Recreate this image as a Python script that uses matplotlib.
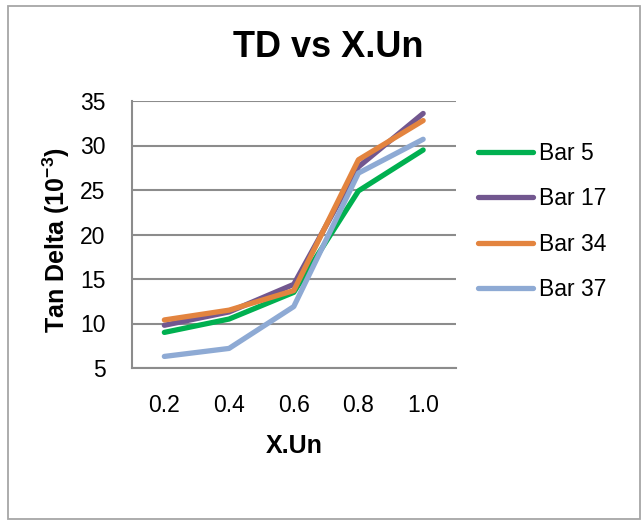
import matplotlib
matplotlib.use("Agg")
import matplotlib.pyplot as plt
from matplotlib.patches import Rectangle

plt.rcParams['font.family'] = ['Liberation Sans', 'DejaVu Sans']
plt.rcParams['mathtext.fontset'] = 'custom'
plt.rcParams['mathtext.rm'] = 'Liberation Sans'
plt.rcParams['mathtext.bf'] = 'Liberation Sans:bold'

categories = ["0.2", "0.4", "0.6", "0.8", "1.0"]
bar5 = [9.0, 10.5, 13.5, 24.9, 29.5]
bar17 = [9.8, 11.3, 14.4, 27.6, 33.6]
bar34 = [10.4, 11.5, 13.7, 28.4, 32.8]
bar37 = [6.3, 7.2, 11.9, 26.9, 30.7]
series_names = ["Bar 5", "Bar 17", "Bar 34", "Bar 37"]
yticks = [5, 10, 15, 20, 25, 30, 35]

colors = ["#00b050", "#72578f", "#e3843f", "#8eaad4"]

W, H = 644, 521
fig = plt.figure(figsize=(W / 100, H / 100), dpi=100)
fig.patch.set_facecolor("white")
fig.patches.append(Rectangle((8 / W, 2 / H), 632 / W, 513 / H, transform=fig.transFigure,
                             fill=False, edgecolor="#a6a6a6", linewidth=1.3))

ax = fig.add_axes([132 / W, (H - 368) / H, 323.5 / W, 267 / H])
x = list(range(len(categories)))
for vals, name, c in zip([bar5, bar17, bar34, bar37], series_names, colors):
    ax.plot(x, vals, color=c, linewidth=3.8, label=name, solid_capstyle="round",
            solid_joinstyle="round")

ax.set_xlim(-0.5, len(categories) - 0.5)
ax.set_ylim(5, 35)
ax.set_yticks(yticks)
ax.set_xticks(x)
ax.set_xticklabels(categories)
ax.yaxis.grid(True, color="#8c8c8c", linewidth=1.5)
ax.set_axisbelow(True)
for s in ["top", "right"]:
    ax.spines[s].set_visible(False)
for s in ["left", "bottom"]:
    ax.spines[s].set_color("#8c8c8c")
    ax.spines[s].set_linewidth(1.5)
ax.tick_params(axis="both", length=0, labelsize=16.5, colors="black")
ax.tick_params(axis="y", pad=19)
ax.tick_params(axis="x", pad=19)

ax.set_xlabel("X.Un", fontsize=18, fontweight="bold", labelpad=12)
ax.set_ylabel("Tan Delta (10$^{\\mathbf{-3}}$)", fontsize=18, fontweight="bold")
ax.yaxis.set_label_coords(-60 / 323.5, 0.48)
fig.text(328 / W, 1 - 47 / H, "TD vs X.Un", fontsize=26, fontweight="bold",
         ha="center", va="center")

leg = fig.legend(loc="upper left", bbox_to_anchor=(478 / W, 1 - 142 / H), frameon=False,
                 fontsize=16.5, handlelength=2.4, handletextpad=0.25, labelspacing=0.98,
                 borderaxespad=0, borderpad=0)

fig.savefig("out.png", dpi=100, facecolor="white")
